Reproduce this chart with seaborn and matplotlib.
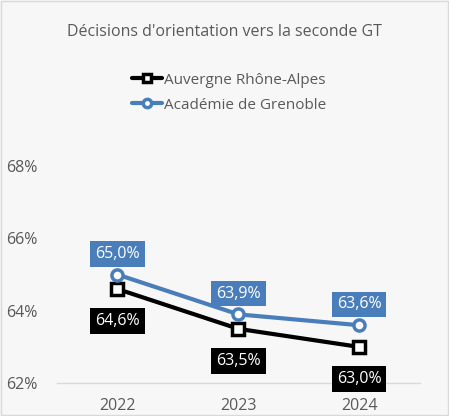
import matplotlib
matplotlib.use('Agg')
import matplotlib.pyplot as plt
import pandas as pd
import seaborn as sns

# Data
years = ['2022', '2023', '2024']
series_names = ['Auvergne Rhône-Alpes', 'Académie de Grenoble']
ara_values = [64.6, 63.5, 63.0]
grenoble_values = [65.0, 63.9, 63.6]
y_ticks = [62, 64, 66, 68]

df = pd.DataFrame({
    'year': years * 2,
    'value': ara_values + grenoble_values,
    'series': [series_names[0]] * 3 + [series_names[1]] * 3,
})

sns.set_style('white')
plt.rcParams['font.family'] = ['Open Sans', 'DejaVu Sans']

bg = '#f7f7f7'
txt = '#595959'
colors = {series_names[0]: '#000000', series_names[1]: '#4a7ebb'}
markers = {series_names[0]: 's', series_names[1]: 'o'}

fig = plt.figure(figsize=(4.49, 4.16), dpi=100, facecolor=bg)
ax = fig.add_axes([0.127, 0.079, 0.808, 0.522], facecolor=bg)

for name in series_names:
    sub = df[df['series'] == name]
    sns.lineplot(data=sub, x='year', y='value', ax=ax, color=colors[name],
                 linewidth=3, marker=markers[name], markersize=8,
                 markerfacecolor='white', markeredgecolor=colors[name],
                 markeredgewidth=2.5, label=name, sort=False)

# Data labels
for i, v in enumerate(ara_values):
    ax.annotate(f'{v:.1f}%'.replace('.', ','), (i, v), xytext=(0, -23),
                textcoords='offset points', ha='center', va='center',
                color='white', fontsize=11.5,
                bbox=dict(boxstyle='square,pad=0.3', fc='black', ec='none'))
for i, v in enumerate(grenoble_values):
    ax.annotate(f'{v:.1f}%'.replace('.', ','), (i, v), xytext=(0, 15),
                textcoords='offset points', ha='center', va='center',
                color='white', fontsize=11.5,
                bbox=dict(boxstyle='square,pad=0.3', fc='#4a7ebb', ec='none'))

ax.set_xlim(-0.5, 2.5)
ax.set_ylim(62, 68)
ax.set_yticks(y_ticks)
ax.set_yticklabels([f'{t}%' for t in y_ticks])
ax.tick_params(axis='both', colors=txt, labelsize=11.5, length=0)
ax.tick_params(axis='y', pad=14)
ax.tick_params(axis='x', pad=11)
ax.set_xlabel('')
ax.set_ylabel('')
for s in ['top', 'right', 'left']:
    ax.spines[s].set_visible(False)
ax.spines['bottom'].set_color('#d9d9d9')
ax.spines['bottom'].set_linewidth(1)

fig.text(0.5, 0.923, "Décisions d'orientation vers la seconde GT",
         ha='center', va='center', color=txt, fontsize=11.5)

leg = ax.legend(loc='center', bbox_to_anchor=(0.51, 0.777), bbox_transform=fig.transFigure,
                frameon=False, fontsize=11, handlelength=2.0, handletextpad=0.1,
                labelspacing=0.65, labelcolor=txt, markerscale=0.75)

# thin border around the figure
fig.patches.append(plt.Rectangle((0.002, 0.002), 0.996, 0.996, transform=fig.transFigure,
                                 fill=False, ec='#d9d9d9', lw=1))

fig.savefig('out.png', dpi=100, facecolor=bg)
